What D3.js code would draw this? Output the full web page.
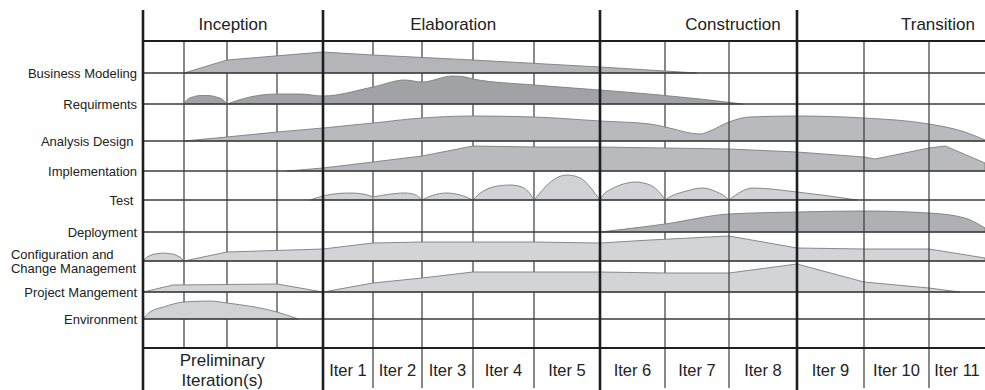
<!DOCTYPE html>
<html><head><meta charset="utf-8">
<script src="https://cdn.jsdelivr.net/npm/d3@7"></script>
<style>
body{margin:0;background:#fff}
svg{display:block}
text{font-family:"Liberation Sans",Arial,Helvetica,sans-serif;fill:#222}
</style>
</head><body>
<svg id="c" width="985" height="390"></svg>
<script>
// ---------------- DATA ----------------
const phases = ["Inception", "Elaboration", "Construction", "Transition"];
const phaseSpans = [[0, 4], [4, 9], [9, 12], [12, 15]];           // in iteration-column units
const iterationLabels = ["Preliminary\nIteration(s)", "Iter 1", "Iter 2", "Iter 3", "Iter 4", "Iter 5",
  "Iter 6", "Iter 7", "Iter 8", "Iter 9", "Iter 10", "Iter 11"];
const iterationSpans = [[0, 4], [4, 5], [5, 6], [6, 7], [7, 8], [8, 9], [9, 10], [10, 11], [11, 12], [12, 13], [13, 14], [14, 15]];
const disciplines = ["Business Modeling", "Requirments", "Analysis Design ", "Implementation", "Test ",
  "Deployment", "Configuration and\nChange Management", "Project Mangement", "Environment"];

// effort profiles: segments of [column, effort]
const businessModeling = [[[1, 0], [2, 13], [4, 21], [5, 18], [7, 13], [9, 6], [10.5, 0]]];
const requirements = [
  [[1, 0], [1.08, 4.5], [1.2, 7], [1.4, 8.5], [1.55, 8.5], [1.75, 7], [1.9, 4.5], [2, 0]],
  [[2, 0], [2.46, 7], [3, 10], [3.5, 10], [4, 8], [5, 17], [5.65, 24], [6, 22], [6.6, 28], [6.85, 27], [7, 25],
   [8, 19], [9, 14], [9.92, 9], [10.55, 5], [11.2, 0]]
];
const analysisDesign = [[[1, 0], [2, 4], [3, 9], [4, 13], [5, 18], [6, 23], [7, 25], [8, 24], [9, 20], [9.77, 17],
  [10, 14], [10.55, 7], [10.7, 10], [11, 19], [11.3, 24], [12, 25], [13, 23], [14, 17], [14.64, 9], [15, 1]]];
const implementation = [[[3.22, 0], [4, 3], [5, 9], [6, 15], [7, 25], [8, 24], [9, 24], [10, 23], [11, 22],
  [12, 19], [13, 14], [13.17, 12], [14, 23], [14.29, 25], [15, 8]]];
const test = [
  [[3.72, 0], [4, 4], [4.3, 6.5], [4.55, 7], [4.8, 6], [5, 3]],
  [[5, 3], [5.3, 5.5], [5.65, 7], [5.85, 5.5], [6, 0]],
  [[6, 0], [6.2, 4.5], [6.49, 7], [6.75, 5], [7, 0]],
  [[7, 0], [7.08, 5], [7.16, 8.5], [7.36, 13.5], [7.61, 15], [7.8, 13], [7.88, 10], [7.95, 5], [8, 0]],
  [[8, 0], [8.09, 7], [8.17, 13], [8.29, 20], [8.5, 25], [8.7, 22], [8.85, 13], [8.92, 7], [9, 0]],
  [[9, 0], [9.06, 6], [9.15, 10], [9.42, 17], [9.54, 18], [9.77, 15], [9.88, 10], [9.95, 5], [10, 0]],
  [[10, 0], [10.1, 4], [10.28, 8], [10.59, 12], [10.81, 8], [10.93, 4], [11, 0]],
  [[11, 0], [11.12, 6], [11.35, 12], [12, 8], [12.9, 0]]
];
const deployment = [[[9, 0], [9.77, 6], [10, 8], [11, 18], [12, 20], [13, 21], [14, 19], [14.64, 14], [15, 4]]];
const configuration = [
  [[0, 0], [0.1, 4], [0.25, 6.8], [0.5, 8], [0.75, 6.8], [0.9, 4], [1, 0]],
  [[1, 0], [2, 9], [4, 12], [5, 18], [6, 19], [7, 19], [8, 19], [9, 18], [9.77, 21], [11, 25], [12, 13],
   [13, 12], [14, 12], [15, 3]]
];
const projectManagement = [
  [[0, 0], [0.73, 7], [3, 8], [4, 0]],
  [[4, 0], [5, 9], [6, 14], [7, 20], [8, 20], [9, 20], [10, 19], [11, 19], [12, 28], [13, 10], [14, 4], [14.55, 0]]
];
const environment = [[[0, 0], [0.17, 7], [0.5, 12], [1, 17], [1.6, 18], [2, 16], [3, 7], [3.46, 0]]];

const profiles = [businessModeling, requirements, analysisDesign, implementation, test,
  deployment, configuration, projectManagement, environment];

// ---------------- LAYOUT / STYLE ----------------
const left = 143;
const colWidths = [41, 43, 50, 46, 50, 49, 51, 61, 66, 65, 64, 68, 67, 65, 56];
const rowBase = [73, 104, 141, 171, 200, 232, 261, 292, 319];
const headerY = 41, footerY = 348;
const fills = ["#b4b5b8", "#a1a2a5", "#b9babd", "#b9babd", "#d1d2d4", "#afb0b3", "#d3d4d6", "#d3d4d6", "#d1d2d4"];
const curves = [d3.curveLinear, d3.curveMonotoneX, d3.curveMonotoneX, d3.curveLinear, d3.curveMonotoneX,
  d3.curveMonotoneX, d3.curveLinear, d3.curveLinear, d3.curveMonotoneX];
const phaseLabelPos = [0.5, 0.47, 0.675, 0.75];

const edges = [left];
colWidths.forEach(w => edges.push(edges[edges.length - 1] + w));
const x = d3.scaleLinear().domain(d3.range(edges.length)).range(edges);
const h = d3.scaleLinear().domain([0, 30]).range([0, 30]);

const svg = d3.select("#c");
const gridBelow = svg.append("g");
const areasG = svg.append("g");
const gridAbove = svg.append("g");
const textG = svg.append("g");

const thick = phaseSpans.map(s => s[0]);
const prelimInner = [1, 2, 3];
const onTop = [11, 13, 14];

// thin vertical lines
d3.range(1, 15).filter(i => !thick.includes(i)).forEach(i => {
  const g = onTop.includes(i) ? gridAbove : gridBelow;
  g.append("line")
    .attr("x1", x(i)).attr("x2", x(i))
    .attr("y1", headerY).attr("y2", prelimInner.includes(i) ? footerY : 388)
    .attr("stroke", "#3a3a3a").attr("stroke-width", 1.2);
});

// areas
profiles.forEach((segs, r) => {
  const base = rowBase[r];
  const area = d3.area()
    .x(d => x(d[0]))
    .y0(base)
    .y1(d => base - h(d[1]))
    .curve(curves[r]);
  segs.forEach(seg => {
    areasG.append("path")
      .attr("d", area(seg))
      .attr("fill", fills[r])
      .attr("stroke", "#7d7e80")
      .attr("stroke-width", 0.9)
      .attr("stroke-linejoin", "round");
  });
});

// horizontal lines
rowBase.forEach(y => {
  gridAbove.append("line").attr("x1", x(0)).attr("x2", x(15)).attr("y1", y).attr("y2", y)
    .attr("stroke", "#3a3a3a").attr("stroke-width", 1.3);
});
[headerY, footerY].forEach(y => {
  gridAbove.append("line").attr("x1", x(0)).attr("x2", x(15)).attr("y1", y).attr("y2", y)
    .attr("stroke", "#1e1e1e").attr("stroke-width", 2.2);
});
// thick phase lines
thick.forEach(i => {
  gridAbove.append("line").attr("x1", x(i)).attr("x2", x(i)).attr("y1", 10).attr("y2", 390)
    .attr("stroke", "#1e1e1e").attr("stroke-width", 2.6);
});

// phase labels
phases.forEach((p, i) => {
  const [a, b] = phaseSpans[i];
  textG.append("text")
    .attr("x", x(a) + (x(b) - x(a)) * phaseLabelPos[i])
    .attr("y", 30)
    .attr("text-anchor", "middle")
    .attr("font-size", 17)
    .text(p);
});

// iteration labels
iterationLabels.forEach((lab, i) => {
  const [a, b] = iterationSpans[i];
  const cx = (x(a) + x(b)) / 2;
  const lines = lab.split("\n");
  if (lines.length > 1) {
    lines.forEach((ln, k) => textG.append("text").attr("text-anchor", "middle").attr("font-size", 17)
      .attr("x", x(a) + (x(b) - x(a)) * 0.44).attr("y", 366 + k * 20).text(ln));
  } else {
    textG.append("text").attr("x", cx).attr("y", 376).attr("text-anchor", "middle")
      .attr("font-size", 16.5).text(lab);
  }
});

// discipline labels
disciplines.forEach((lab, r) => {
  const lines = lab.split("\n");
  if (lines.length === 1) {
    textG.append("text").attr("font-size", 13).style("white-space", "pre")
      .attr("x", 137).attr("y", rowBase[r]).attr("dy", "0.35em").attr("text-anchor", "end").text(lab);
  } else {
    const ts = lines.map((ln, k) => textG.append("text").attr("font-size", 13)
      .attr("y", rowBase[r] + (k - (lines.length - 1) / 2) * 14).attr("dy", "0.35em").text(ln));
    const maxW = d3.max(ts.map(s => s.node().getComputedTextLength()));
    ts.forEach(s => s.attr("x", 136 - maxW));
  }
});
</script>
</body></html>
